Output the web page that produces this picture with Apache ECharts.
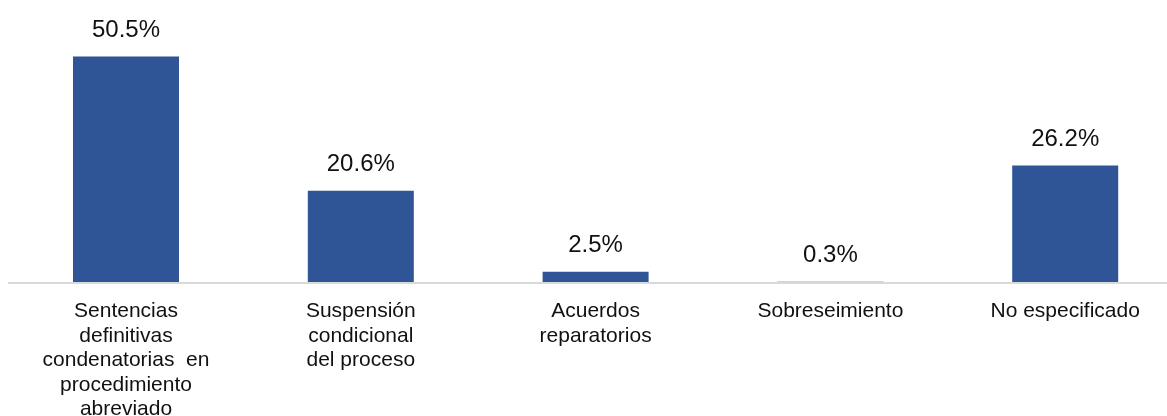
<!DOCTYPE html>
<html>
<head>
<meta charset="utf-8">
<script src="https://cdn.jsdelivr.net/npm/echarts@6/dist/echarts.min.js"></script>
<style>html,body{margin:0;padding:0;background:#fff;}#c{width:1167px;height:416px;}</style>
</head>
<body>
<div id="c"></div>
<script>
const categories = [
  "Sentencias\ndefinitivas\ncondenatorias  en\nprocedimiento\nabreviado",
  "Suspensión\ncondicional\ndel proceso",
  "Acuerdos\nreparatorios",
  "Sobreseimiento",
  "No especificado"
];
const values = [50.5, 20.6, 2.5, 0.3, 26.2];

const chart = echarts.init(document.getElementById('c'));
chart.setOption({
  animation: false,
  grid: { left: 8.6, top: 14, width: 1174, height: 269, containLabel: false, outerBoundsMode: 'none' },
  xAxis: {
    type: 'category',
    data: categories,
    z: 5,
    axisLine: { lineStyle: { color: '#d9d9d9', width: 2 } },
    axisTick: { show: false },
    axisLabel: {
      interval: 0,
      margin: 16,
      fontFamily: 'Liberation Sans, Arial, sans-serif',
      fontSize: 21,
      lineHeight: 24.5,
      color: '#111'
    }
  },
  yAxis: {
    type: 'value',
    min: 0, max: 60,
    show: false,
    splitLine: { show: false }
  },
  series: [{
    type: 'bar',
    data: values,
    barWidth: 106,
    z: 2,
    itemStyle: { color: '#2F5597' },
    label: {
      show: true,
      position: 'top',
      distance: 14,
      formatter: p => p.value.toFixed(1) + '%',
      fontFamily: 'Liberation Sans, Arial, sans-serif',
      fontSize: 24,
      color: '#111'
    }
  }]
});
</script>
</body>
</html>
